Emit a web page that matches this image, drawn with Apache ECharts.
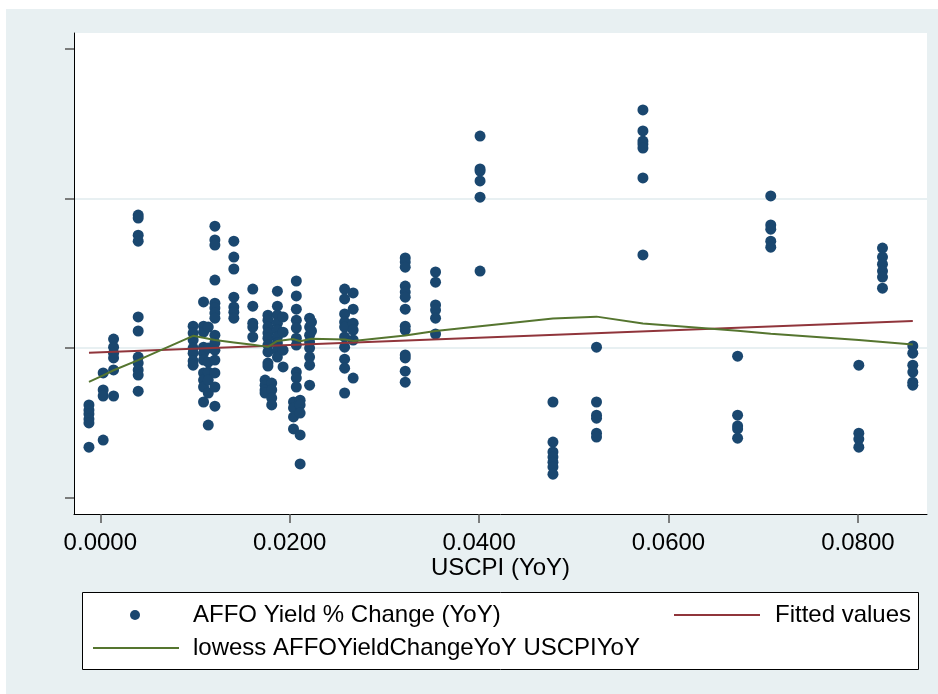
<!DOCTYPE html>
<html>
<head>
<meta charset="utf-8">
<script src="https://cdn.jsdelivr.net/npm/echarts@6/dist/echarts.min.js"></script>
<style>
html,body{margin:0;padding:0;background:#ffffff;}
#c{width:938px;height:694px;background:linear-gradient(#e8f0f2,#e8f0f2) 6px 9px / 932px 685px no-repeat,#ffffff;}
</style>
</head>
<body>
<div id="c"></div>
<script>
// US CPI YoY values (x); each has a group of AFFO yield % change values (y)
const cpiYoY = [-0.0012, 0.0003, 0.0014, 0.0040, 0.0098, 0.0109, 0.0114, 0.0121, 0.0141, 0.0161,
  0.0174, 0.0177, 0.0181, 0.0187, 0.0193, 0.0204, 0.0207, 0.0211, 0.0221, 0.0223,
  0.0258, 0.0267, 0.0322, 0.0354, 0.0401, 0.0478, 0.0524, 0.0573, 0.0673, 0.0708,
  0.0801, 0.0826, 0.0858];
const affoYieldChange = [
  [-0.190, -0.207, -0.220, -0.237, -0.250, -0.331],
  [-0.083, -0.140, -0.160, -0.307],
  [0.030, 0.003, -0.017, -0.033, -0.073, -0.160],
  [0.444, 0.434, 0.377, 0.357, 0.104, 0.057, -0.030, -0.050, -0.073, -0.090, -0.144],
  [0.073, 0.050, 0.027, 0.000, -0.017, -0.043, -0.057],
  [0.154, 0.073, 0.053, 0.003, -0.017, -0.040, -0.083, -0.107, -0.130, -0.180],
  [0.070, 0.000, -0.047, -0.080, -0.107, -0.150, -0.257],
  [0.407, 0.361, 0.344, 0.227, 0.150, 0.134, 0.117, 0.100, 0.043, 0.017, -0.007, -0.040, -0.083, -0.130, -0.194],
  [0.357, 0.304, 0.264, 0.170, 0.137, 0.120, 0.100],
  [0.197, 0.140, 0.083, 0.070, 0.037],
  [-0.107, -0.124, -0.140, -0.150],
  [0.110, 0.093, 0.070, 0.050, 0.033, 0.010, -0.013, -0.050, -0.060],
  [-0.117, -0.140, -0.167, -0.190],
  [0.190, 0.140, 0.110, 0.083, 0.060, 0.037, 0.017, -0.007, -0.030],
  [0.104, 0.053, -0.007, -0.063],
  [-0.180, -0.200, -0.230, -0.270],
  [0.224, 0.174, 0.130, 0.093, 0.067, 0.033, 0.010, -0.080, -0.100, -0.130],
  [-0.174, -0.190, -0.217, -0.290, -0.387],
  [0.100, 0.070, 0.043, 0.020, 0.000, -0.030, -0.057, -0.124],
  [0.087, 0.057],
  [0.197, 0.164, 0.114, 0.087, 0.070, 0.037, 0.003, -0.037, -0.067, -0.150],
  [0.184, 0.130, 0.083, 0.060, 0.027, -0.100],
  [0.301, 0.287, 0.270, 0.207, 0.187, 0.170, 0.130, 0.073, 0.060, -0.023, -0.033, -0.077, -0.114],
  [0.254, 0.220, 0.144, 0.127, 0.100, 0.047],
  [0.708, 0.598, 0.591, 0.558, 0.504, 0.257],
  [-0.180, -0.314, -0.347, -0.364, -0.381, -0.397, -0.421],
  [0.003, -0.180, -0.224, -0.234, -0.284, -0.297],
  [0.795, 0.725, 0.691, 0.681, 0.668, 0.568, 0.311],
  [-0.027, -0.224, -0.260, -0.270, -0.301],
  [0.508, 0.411, 0.397, 0.357, 0.337],
  [-0.057, -0.284, -0.304, -0.331],
  [0.334, 0.304, 0.280, 0.257, 0.237, 0.200],
  [0.007, -0.017, -0.057, -0.080, -0.114, -0.124]
];
// Linear fit (endpoints)
const fittedX = [-0.0012, 0.0858];
const fittedY = [-0.0157, 0.0902];
// Lowess smoother
const lowessX = [-0.0012, 0.0003, 0.0014, 0.0040, 0.0098, 0.0121, 0.0141, 0.0161, 0.0177, 0.0187,
  0.0204, 0.0211, 0.0223, 0.0258, 0.0267, 0.0322, 0.0354, 0.0401, 0.0478, 0.0524,
  0.0573, 0.0673, 0.0708, 0.0801, 0.0858];
const lowessY = [-0.113, -0.091, -0.074, -0.040, 0.041, 0.027, 0.019, 0.011, 0.004, 0.024,
  0.030, 0.023, 0.031, 0.029, 0.024, 0.042, 0.057, 0.073, 0.099, 0.105,
  0.082, 0.058, 0.048, 0.027, 0.012];
const xTicks = [0, 0.02, 0.04, 0.06, 0.08];
const yTicks = [-0.5, 0, 0.5, 1.0];
const seriesNames = ['AFFO Yield % Change (YoY)', 'Fitted values', 'lowess AFFOYieldChangeYoY USCPIYoY'];
const xTitle = 'USCPI (YoY)';

const scatterData = [];
cpiYoY.forEach((x, i) => affoYieldChange[i].forEach(y => scatterData.push([x, y])));
const fittedData = fittedX.map((x, i) => [x, fittedY[i]]);
const lowessData = lowessX.map((x, i) => [x, lowessY[i]]);

const FONT = '"Liberation Sans", Arial, sans-serif';
const txt = {fontSize: 24, fontFamily: FONT, color: '#000000'};
const chart = echarts.init(document.getElementById('c'), null, {renderer: 'canvas'});
chart.setOption({
  animation: false,
  backgroundColor: 'transparent',
  grid: {left: 74, right: 11, top: 33, bottom: 180, show: true, backgroundColor: '#ffffff', borderWidth: 0},
  xAxis: {
    type: 'value', min: -0.00278, max: 0.0873,
    name: xTitle, nameLocation: 'middle', nameGap: 42, nameMoveOverlap: false, nameTextStyle: txt,
    axisLine: {show: true, onZero: false, lineStyle: {color: '#000000', width: 1}},
    axisTick: {show: true, length: 9, customValues: xTicks, lineStyle: {color: '#555555', width: 1.5}},
    axisLabel: {customValues: xTicks, formatter: v => v.toFixed(4), margin: 17, ...txt},
    splitLine: {show: false}
  },
  yAxis: {
    type: 'value', min: -0.554, max: 1.052, splitNumber: 3,
    axisLine: {show: true, onZero: false, lineStyle: {color: '#000000', width: 1}},
    axisTick: {show: true, length: 9, customValues: yTicks, lineStyle: {color: '#555555', width: 1.5}},
    axisLabel: {show: false},
    splitLine: {show: true, showMinLine: false, showMaxLine: false, lineStyle: {color: '#e8f0f2', width: 2}}
  },
  graphic: [{
    type: 'rect', z: 1, silent: true,
    shape: {x: 82.5, y: 592.5, width: 836, height: 77},
    style: {fill: '#ffffff', stroke: '#000000', lineWidth: 1}
  }],
  legend: [
    {data: [{name: seriesNames[0], icon: 'circle'}], left: 130, top: 603, padding: 0, itemWidth: 10, itemHeight: 10,
      selectedMode: false, textStyle: {...txt, padding: [0, 0, 0, 48]}},
    {data: [{name: seriesNames[1], icon: 'rect'}], left: 674, top: 603, padding: 0, itemWidth: 86, itemHeight: 2,
      selectedMode: false, textStyle: {...txt, padding: [0, 0, 0, 10]}},
    {data: [{name: seriesNames[2], icon: 'rect'}], left: 93, top: 636, padding: 0, itemWidth: 86, itemHeight: 2,
      selectedMode: false, textStyle: {...txt, padding: [0, 0, 0, 9]}}
  ],
  series: [
    {name: seriesNames[0], type: 'scatter', data: scatterData, symbol: 'circle', symbolSize: 11,
      itemStyle: {color: '#1a476f', opacity: 1}, z: 2},
    {name: seriesNames[1], type: 'line', data: fittedData, symbol: 'none', showSymbol: false,
      lineStyle: {color: '#90353b', width: 2}, itemStyle: {color: '#90353b'}, z: 3},
    {name: seriesNames[2], type: 'line', data: lowessData, symbol: 'none', showSymbol: false,
      lineStyle: {color: '#55752f', width: 2}, itemStyle: {color: '#55752f'}, z: 4}
  ]
});
</script>
</body>
</html>
